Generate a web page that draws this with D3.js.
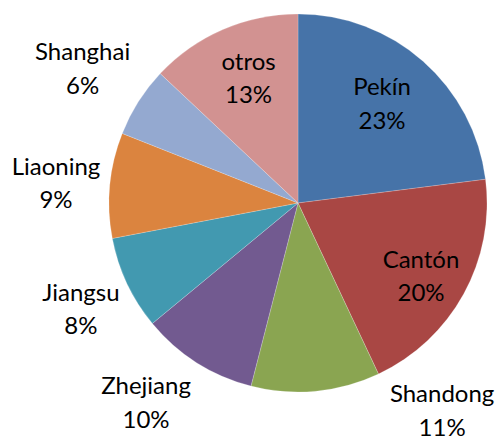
<!DOCTYPE html>
<html>
<head>
<meta charset="utf-8">
<script src="https://cdn.jsdelivr.net/npm/d3@7"></script>
<style>
  html, body { margin: 0; padding: 0; background: #fff; }
  svg { display: block; }
</style>
</head>
<body>
<svg id="chart" width="500" height="436"></svg>
<script>
// ---- data ----
const categories = ["Pekín", "Cantón", "Shandong", "Zhejiang", "Jiangsu", "Liaoning", "Shanghai", "otros"];
const shares = [23, 20, 11, 10, 8, 9, 6, 13];
const percentLabels = ["23%", "20%", "11%", "10%", "8%", "9%", "6%", "13%"];

// ---- styling / layout ----
const colors = ["#4673A8", "#A94744", "#8AA551", "#725A90", "#4299B0", "#DB843F", "#94A9D0", "#D29291"];
// label placement: shift from slice mid-angle (deg) and distance as a fraction of radius
const labelAngleShift = [-1.2, 1.9, -29.4, 4.9, -0.8, -0.7, -0.4, 1.8];
const labelRadius = [0.689, 0.757, 1.336, 1.327, 1.278, 1.285, 1.344, 0.711];

const width = 500, height = 436;
const cx = 298, cy = 203, R = 189;
const fontSize = 24, lineGap = 33.5, capH = 17.2;

const svg = d3.select("#chart");
const g = svg.append("g").attr("transform", `translate(${cx},${cy})`);

const pie = d3.pie().sort(null).value(d => d.v);
const data = categories.map((c, i) => ({ name: c, v: shares[i], pct: percentLabels[i], i }));
const arcs = pie(data);
const arc = d3.arc().innerRadius(0).outerRadius(R);

g.selectAll("path.slice")
  .data(arcs)
  .join("path")
  .attr("class", "slice")
  .attr("d", arc)
  .attr("fill", d => colors[d.data.i])
  .attr("stroke", "#ffffff")
  .attr("stroke-width", 0.5)
  .attr("stroke-opacity", 0.4);

const labels = g.selectAll("text.lbl")
  .data(arcs)
  .join("text")
  .attr("class", "lbl")
  .attr("font-family", "Lato, 'Open Sans', sans-serif")
  .attr("font-size", fontSize)
  .attr("fill", "#000")
  .attr("text-anchor", "middle")
  .each(function(d) {
    const i = d.data.i;
    const a = (d.startAngle + d.endAngle) / 2 + labelAngleShift[i] * Math.PI / 180;
    const r = R * labelRadius[i];
    const x = r * Math.sin(a);
    const y = -r * Math.cos(a);
    const t = d3.select(this);
    const b1 = y - lineGap / 2 + capH / 2;
    t.append("tspan").attr("x", x).attr("y", b1).text(d.data.name);
    t.append("tspan").attr("x", x).attr("y", b1 + lineGap).text(d.data.pct);
  });
</script>
</body>
</html>
